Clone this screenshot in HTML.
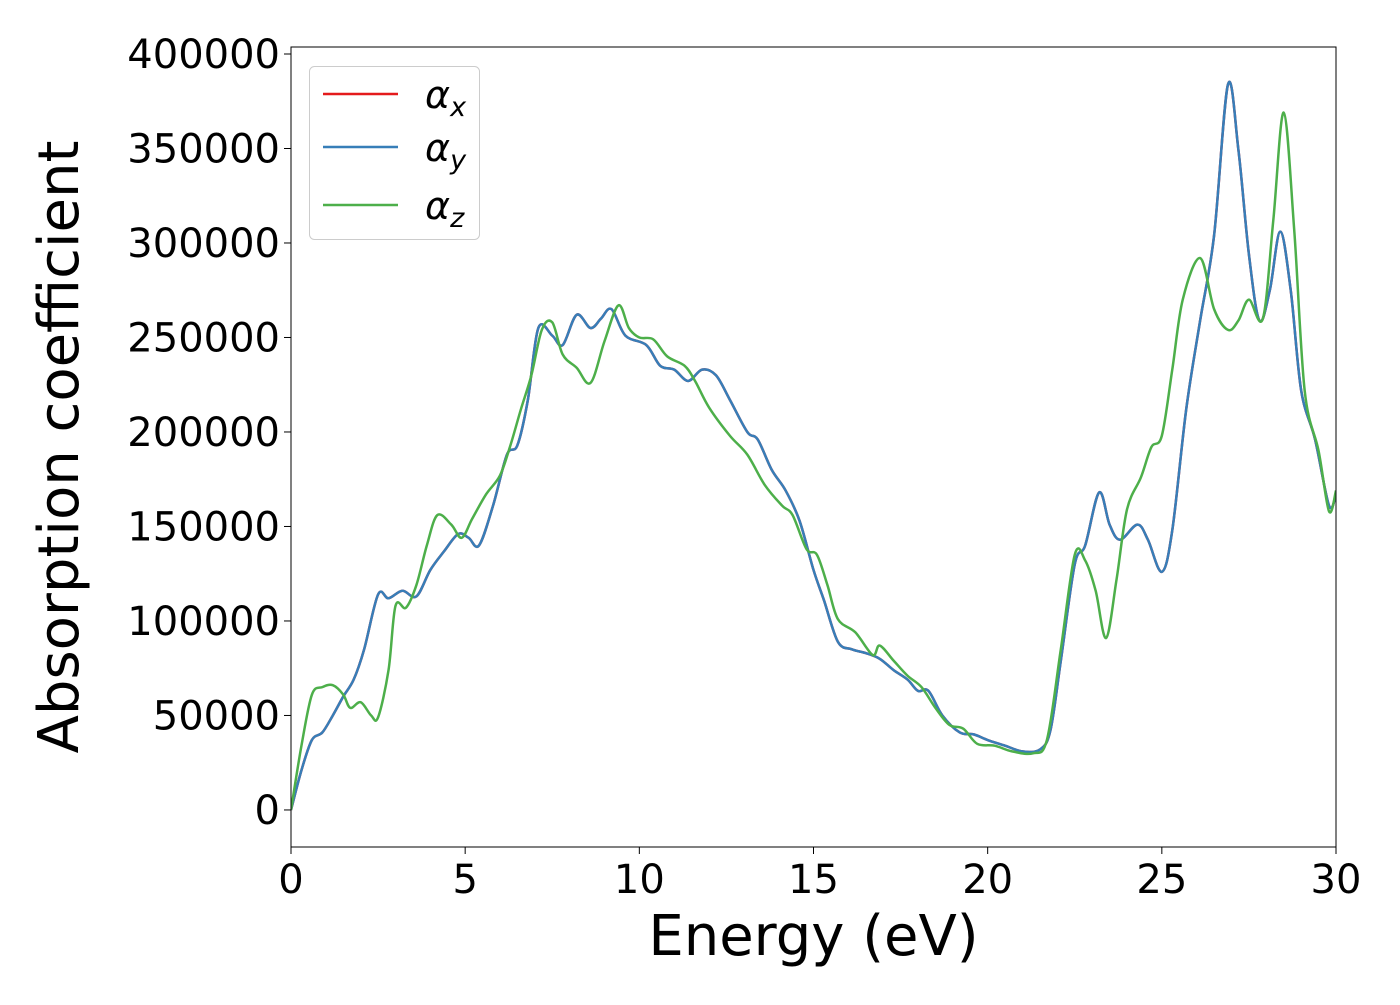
<!DOCTYPE html>
<html><head><meta charset="utf-8"><style>
html,body{margin:0;padding:0;background:#fff;}
svg text{font-family:"DejaVu Sans","Liberation Sans",sans-serif;}
</style></head><body>
<svg id="chart" width="1400" height="1000" xmlns="http://www.w3.org/2000/svg">
<g id="plot"></g>
</svg>
<script>
const xTicks=[0,5,10,15,20,25,30];
const yTicks=[0,50000,100000,150000,200000,250000,300000,350000,400000];
const energyXY=[0,0.3,0.6,0.9,1.2,1.5,1.8,2.1,2.5,2.8,3.2,3.6,4.0,4.4,4.8,5.1,5.4,5.8,6.2,6.5,6.8,7.1,7.5,7.8,8.2,8.6,8.9,9.2,9.6,10.2,10.6,11.0,11.4,11.8,12.2,12.6,13.1,13.4,13.8,14.2,14.6,15.0,15.3,15.7,16.1,16.5,16.9,17.3,17.7,18.0,18.3,18.7,19.2,19.6,20.0,20.5,21.0,21.5,21.8,22.1,22.5,22.8,23.2,23.5,23.8,24.3,24.6,25.0,25.3,25.7,26.1,26.5,26.9,27.2,27.5,27.8,28.1,28.4,28.7,29.0,29.4,29.8,30];
const alphaXY=[0,21000,37000,41000,50000,60000,69000,85000,114000,112000,116000,113000,127000,137000,146000,144000,140000,161000,188000,193000,217000,255000,251000,246000,262000,255000,260000,265000,251000,246000,235000,233000,227000,233000,230000,217000,200000,196000,180000,169000,153000,127000,111000,89000,85000,83000,80000,74000,69000,63000,63000,50000,41000,40000,37000,34000,31000,32000,42000,79000,130000,140000,168000,151000,143000,151000,143000,126000,148000,212000,259000,304000,384000,349000,294000,259000,275000,306000,275000,222000,196000,161000,167000];
const energyZ=[0,0.3,0.6,0.9,1.2,1.5,1.7,2.0,2.3,2.5,2.8,3.0,3.3,3.6,3.9,4.2,4.6,4.9,5.2,5.6,6.0,6.3,6.6,6.9,7.2,7.5,7.8,8.2,8.6,9.0,9.4,9.7,10.0,10.4,10.8,11.3,11.6,12.0,12.6,13.1,13.6,14.1,14.4,14.8,15.1,15.4,15.7,16.2,16.7,16.9,17.3,17.7,18.1,18.5,18.9,19.3,19.7,20.2,20.7,21.3,21.7,22.1,22.5,22.8,23.1,23.4,23.7,24.0,24.4,24.7,25.0,25.3,25.6,26.1,26.5,26.9,27.2,27.5,27.9,28.2,28.5,28.8,29.1,29.5,29.8,30];
const alphaZ=[0,34000,61000,65000,66000,61000,54000,57000,50000,49000,74000,108000,107000,119000,140000,156000,151000,144000,154000,167000,177000,193000,212000,230000,254000,258000,241000,234000,226000,248000,267000,255000,250000,249000,240000,235000,227000,213000,198000,188000,172000,161000,156000,138000,135000,119000,101000,94000,82000,87000,79000,71000,65000,54000,45000,43000,35000,34000,31000,30000,37000,85000,135000,132000,116000,91000,122000,159000,176000,192000,198000,233000,270000,292000,265000,254000,259000,270000,260000,312000,369000,307000,222000,190000,158000,169000];

const L=291,R=1336,T=47,B=847;
const xMin=0,xMax=30,yMin=-19600,yMax=403700;
const sx=v=>L+(v-xMin)/(xMax-xMin)*(R-L);
const sy=v=>B-(v-yMin)/(yMax-yMin)*(B-T);
const NS='http://www.w3.org/2000/svg';
const g=document.getElementById('plot');
function mk(tag,attrs,parent){const e=document.createElementNS(NS,tag);for(const k in attrs)e.setAttribute(k,attrs[k]);(parent||g).appendChild(e);return e;}
function pathFor(xs,ys){
  const p=xs.map((x,i)=>[sx(x),sy(ys[i])]);
  let d='M'+p[0][0]+','+p[0][1];
  for(let i=0;i<p.length-1;i++){
    const p0=p[i-1]||p[i],p1=p[i],p2=p[i+1],p3=p[i+2]||p2;
    const c1x=p1[0]+(p2[0]-p0[0])/6,c1y=p1[1]+(p2[1]-p0[1])/6;
    const c2x=p2[0]-(p3[0]-p1[0])/6,c2y=p2[1]-(p3[1]-p1[1])/6;
    d+=` C${c1x},${c1y} ${c2x},${c2y} ${p2[0]},${p2[1]}`;
  }
  return d;
}
const clip=mk('clipPath',{id:'clip'});mk('rect',{x:L,y:T,width:R-L,height:B-T},clip);
const lines=mk('g',{'clip-path':'url(#clip)'});


const lx=mk('path',{d:pathFor(energyXY,alphaXY),fill:'none',stroke:'#e41a1c','stroke-width':2.5},lines);


const ly=mk('path',{d:pathFor(energyXY,alphaXY),fill:'none',stroke:'#377eb8','stroke-width':2.5},lines);


const lz=mk('path',{d:pathFor(energyZ,alphaZ),fill:'none',stroke:'#4daf4a','stroke-width':2.5},lines);


const frame=mk('rect',{x:L,y:T,width:R-L,height:B-T,fill:'none',stroke:'#000','stroke-width':1});


xTicks.forEach(v=>{
  const t=mk('line',{x1:sx(v),x2:sx(v),y1:B,y2:B+7,stroke:'#000','stroke-width':1});
  
  
  const tx=mk('text',{x:sx(v),y:B+46,'text-anchor':'middle','font-size':40});
  tx.textContent=v;
  
  
});
yTicks.forEach(v=>{
  const t=mk('line',{x1:L-7,x2:L,y1:sy(v),y2:sy(v),stroke:'#000','stroke-width':1});
  
  
  const tx=mk('text',{x:L-11,y:sy(v)+14,'text-anchor':'end','font-size':40});
  tx.textContent=v;
  
  
});
const xt=mk('text',{x:(L+R)/2,y:955,'text-anchor':'middle','font-size':56});
xt.textContent='Energy (eV)';


const yt=mk('text',{x:0,y:0,'text-anchor':'middle','font-size':56,transform:`translate(78,${(T+B)/2}) rotate(-90)`});
yt.textContent='Absorption coefficient';


const leg=mk('g',{});


mk('rect',{x:309.5,y:66.5,width:170,height:173,rx:5,fill:'#fff','fill-opacity':0.8,stroke:'#ccc','stroke-width':1},leg);
[['x','#e41a1c',94],['y','#377eb8',147],['z','#4daf4a',205]].forEach(([s,c,y])=>{
  const e=mk('g',{},leg);
  
  
  mk('line',{x1:323,x2:398,y1:y,y2:y,stroke:c,'stroke-width':2.5},e);
  const t=mk('text',{x:425,y:y+14,'font-size':38,'font-style':'italic'},e);
  t.innerHTML='α<tspan font-size="27" dy="8">'+s+'</tspan>';
});
</script>
</body></html>
